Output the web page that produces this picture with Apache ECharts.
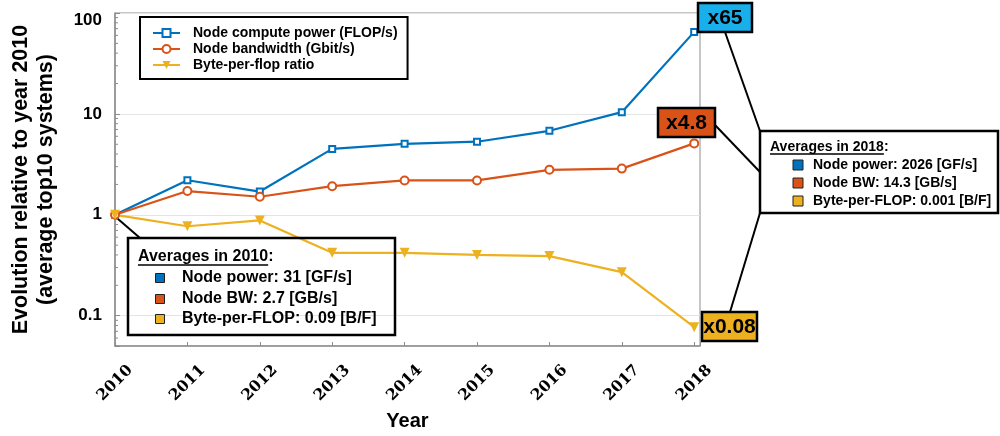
<!DOCTYPE html>
<html><head><meta charset="utf-8">
<script src="https://cdn.jsdelivr.net/npm/echarts@6/dist/echarts.min.js"></script>
<style>html,body{margin:0;padding:0;background:#fff}#c{width:1000px;height:436px}</style>
</head><body><div id="c"></div>
<script>
const years = [2010, 2011, 2012, 2013, 2014, 2015, 2016, 2017, 2018];
const computePower = [1, 2.2, 1.7, 4.5, 5.05, 5.3, 6.8, 10.4, 65];
const nodeBandwidth = [1, 1.72, 1.51, 1.92, 2.19, 2.19, 2.79, 2.87, 5.1];
const bytePerFlop = [1, 0.77, 0.88, 0.42, 0.42, 0.40, 0.39, 0.27, 0.077];
const seriesNames = ['Node compute power (FLOP/s)', 'Node bandwidth (Gbit/s)', 'Byte-per-flop ratio'];
const yTickLabels = ['0.1', '1', '10', '100'];
const box2010Title = 'Averages in 2010';
const box2010 = ['Node power: 31 [GF/s]', 'Node BW: 2.7 [GB/s]', 'Byte-per-FLOP: 0.09 [B/F]'];
const box2018Title = 'Averages in 2018';
const box2018 = ['Node power: 2026 [GF/s]', 'Node BW: 14.3 [GB/s]', 'Byte-per-FLOP: 0.001 [B/F]'];
const ratioLabels = ['x65', 'x4.8', 'x0.08'];

const COLORS = ['#0072BD', '#D95319', '#EDB120'];
const LABEL_BG = ['#19AFEA', '#D95319', '#EDB120'];
const SANS = '"Liberation Sans", Arial, sans-serif';
const AXIS_GRAY = '#8c8c8c';

const chart = echarts.init(document.getElementById('c'), null, {renderer: 'canvas'});
const toPairs = arr => years.map((y, i) => [y, arr[i]]);

function yLabel(v) {
  const l = Math.log10(v);
  if (Math.abs(l - Math.round(l)) > 1e-6) return '';
  const idx = Math.round(l) + 1;
  const s = yTickLabels[idx] || '';
  return idx === 3 ? '{t|' + s + '}' : s;
}

const option = {
  animation: false,
  backgroundColor: '#fff',
  grid: {left: 115, right: 300, top: 13, bottom: 88, show: true, borderColor: AXIS_GRAY, borderWidth: 1, backgroundColor: 'transparent'},
  legend: {
    left: 140, top: 17, orient: 'vertical',
    backgroundColor: '#fff', borderColor: '#000', borderWidth: 2,
    padding: [9, 10, 7, 12], itemWidth: 27, itemHeight: 10, itemGap: 2,
    textStyle: {fontSize: 14, fontWeight: 'bold', fontFamily: SANS, color: '#000', padding: [0, 0, 0, 8]},
    data: seriesNames
  },
  xAxis: {
    type: 'value', min: 2010, max: 2018.08, interval: 1,
    axisLine: {lineStyle: {color: AXIS_GRAY, width: 1.5}},
    axisTick: {inside: true, length: 4, lineStyle: {color: AXIS_GRAY}},
    splitLine: {show: false},
    axisLabel: {
      rotate: 45, margin: 37, align: 'center', verticalAlign: 'middle',
      formatter: v => Number.isInteger(v) ? String(v) : '',
      fontFamily: '"DejaVu Serif", serif', fontWeight: 'bold', fontSize: 15.5, color: '#000'
    },
    name: 'Year', nameLocation: 'middle', nameGap: 64,
    nameTextStyle: {fontSize: 20, fontWeight: 'bold', fontFamily: SANS, color: '#000'}
  },
  yAxis: {
    type: 'log', logBase: 10, min: 0.05, max: 100,
    axisLine: {show: true, lineStyle: {color: AXIS_GRAY, width: 1.5}},
    axisTick: {show: true, inside: true, length: 5, lineStyle: {color: AXIS_GRAY}},
    splitLine: {show: true, lineStyle: {color: '#e4e4e4'}},
    axisLabel: {
      formatter: yLabel, margin: 13,
      fontFamily: SANS, fontWeight: 'bold', fontSize: 17, color: '#000',
      rich: {t: {padding: [15, 0, 0, 0], fontFamily: SANS, fontWeight: 'bold', fontSize: 17, color: '#000'}}
    },
    name: 'Evolution relative to year 2010\n(average top10 systems)',
    nameLocation: 'middle', nameGap: 56,
    nameTextStyle: {fontSize: 21.5, fontWeight: 'bold', fontFamily: SANS, color: '#000', lineHeight: 25}
  },
  series: [
    {name: seriesNames[0], type: 'line', data: toPairs(computePower), symbol: 'emptyRect', symbolSize: 6,
     lineStyle: {width: 2.2, color: COLORS[0]}, itemStyle: {color: COLORS[0], borderWidth: 1.5}, z: 3},
    {name: seriesNames[1], type: 'line', data: toPairs(nodeBandwidth), symbol: 'emptyCircle', symbolSize: 8,
     lineStyle: {width: 2.2, color: COLORS[1]}, itemStyle: {color: COLORS[1], borderWidth: 1.5}, z: 3},
    {name: seriesNames[2], type: 'line', data: toPairs(bytePerFlop), symbol: 'triangle', symbolRotate: 180, symbolSize: 10,
     lineStyle: {width: 2.2, color: COLORS[2]}, itemStyle: {color: COLORS[2]}, z: 3}
  ]
};
chart.setOption(option);

// text measuring for underlines
const mctx = document.createElement('canvas').getContext('2d');
function textW(t, font) { mctx.font = font; return mctx.measureText(t).width; }

const g = [];
// minor log ticks on the y axis
const x0 = chart.convertToPixel({xAxisIndex: 0}, 2010);
for (let d = -2; d <= 1; d++) {
  for (let k = 2; k <= 9; k++) {
    const v = k * Math.pow(10, d);
    if (v < 0.05 || v > 100) continue;
    const y = chart.convertToPixel({yAxisIndex: 0}, v);
    g.push({type: 'line', shape: {x1: x0, y1: y, x2: x0 + 3, y2: y}, style: {stroke: AXIS_GRAY, lineWidth: 1}, silent: true});
  }
}

function leader(x1, y1, x2, y2) {
  g.push({type: 'line', shape: {x1, y1, x2, y2}, style: {stroke: '#000', lineWidth: 2}, z: 10});
}
function annotBox(x, y, w, h, title, lines, fontPx, rowY, sqX, txtX, sq, fill) {
  g.push({type: 'rect', shape: {x, y, width: w, height: h}, style: {fill: fill, stroke: '#000', lineWidth: 2.5}, z: 11});
  const font = 'bold ' + fontPx + 'px ' + SANS;
  g.push({type: 'text', x: x + 10, y: rowY[0], z: 12, style: {text: title + ':', font, fill: '#000', align: 'left', verticalAlign: 'middle'}});
  const uw = textW(title, font);
  g.push({type: 'line', z: 12, shape: {x1: x + 10, y1: rowY[0] + fontPx * 0.5, x2: x + 10 + uw, y2: rowY[0] + fontPx * 0.5}, style: {stroke: '#000', lineWidth: 1.3}});
  lines.forEach((t, i) => {
    g.push({type: 'rect', z: 12, shape: {x: sqX - sq / 2, y: rowY[i + 1] - sq / 2, width: sq, height: sq}, style: {fill: COLORS[i], stroke: '#222', lineWidth: 1}});
    g.push({type: 'text', x: txtX, y: rowY[i + 1], z: 12, style: {text: t, font, fill: '#000', align: 'left', verticalAlign: 'middle'}});
  });
}
function ratioBox(x, y, w, h, t, bg) {
  g.push({type: 'rect', z: 13, shape: {x, y, width: w, height: h}, style: {fill: bg, stroke: '#000', lineWidth: 2.5}});
  g.push({type: 'text', z: 14, x: x + w / 2, y: y + h / 2 + 1, style: {text: t, font: 'bold 21px ' + SANS, fill: '#000', align: 'center', verticalAlign: 'middle'}});
}

// left box (2010)
leader(118, 219, 140, 238);
annotBox(128, 238, 267, 97, box2010Title, box2010, 16, [257, 278, 299, 319], 160, 182, 9, 'transparent');
// right box (2018)
leader(725, 32, 760, 131);
leader(715, 125, 760, 172);
leader(730, 312, 760, 213);
annotBox(760, 131, 238, 82, box2018Title, box2018, 14, [147, 165, 183, 201], 798, 813, 10, '#fff');
ratioBox(698, 3, 54, 29, ratioLabels[0], LABEL_BG[0]);
ratioBox(658, 108, 57, 29, ratioLabels[1], LABEL_BG[1]);
ratioBox(702, 312, 55, 29, ratioLabels[2], LABEL_BG[2]);

chart.setOption({graphic: g});
</script>
</body></html>
